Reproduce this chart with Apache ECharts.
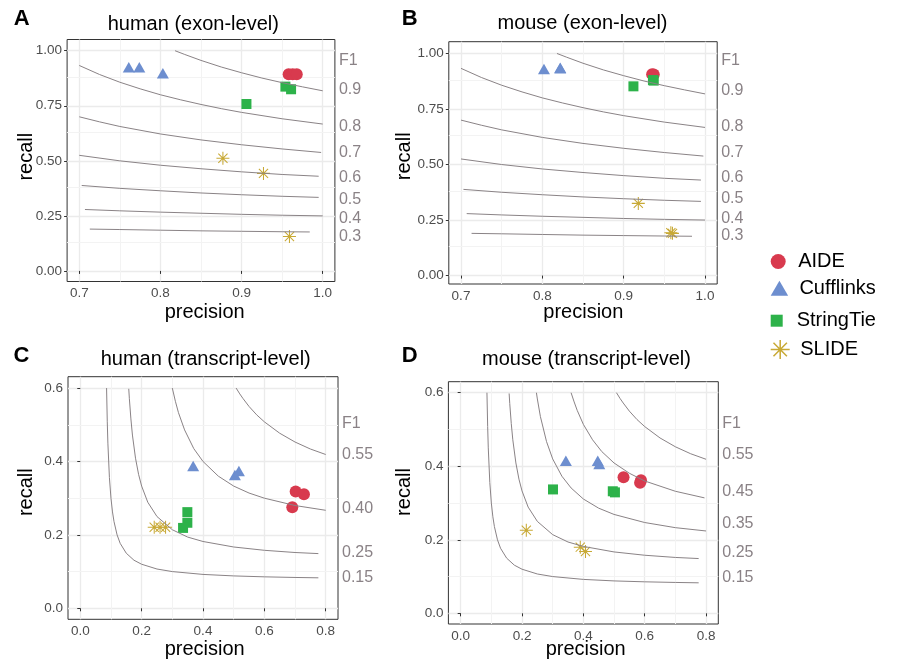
<!DOCTYPE html>
<html>
<head>
<meta charset="utf-8">
<title>F1 precision / recall</title>
<script src="https://cdn.jsdelivr.net/npm/echarts@6/dist/echarts.min.js"></script>
<style>
html, body { margin: 0; padding: 0; background: #fff; }
#main { width: 899px; height: 662px; }
</style>
</head>
<body>
<div id="main"></div>
<script>
//方法名称
var methods = ['AIDE', 'Cufflinks', 'StringTie', 'SLIDE'];

//human exon-level  [precision, recall]
var aideHumanExon = [[0.958, 0.893], [0.963, 0.893], [0.968, 0.893]];
var cuffHumanExon = [[0.761, 0.925], [0.774, 0.925], [0.803, 0.898]];
var stieHumanExon = [[0.906, 0.758], [0.954, 0.837], [0.961, 0.825]];
var slideHumanExon = [[0.877, 0.512], [0.927, 0.443], [0.959, 0.156]];

//mouse exon-level
var aideMouseExon = [[0.935, 0.907], [0.937, 0.905], [0.936, 0.903]];
var cuffMouseExon = [[0.802, 0.93], [0.822, 0.936], [0.822, 0.934]];
var stieMouseExon = [[0.912, 0.852], [0.936, 0.88], [0.937, 0.878]];
var slideMouseExon = [[0.918, 0.325], [0.958, 0.193], [0.96, 0.19]];

//human transcript-level
var aideHumanTx = [[0.702, 0.318], [0.729, 0.311], [0.691, 0.275]];
var cuffHumanTx = [[0.368, 0.388], [0.504, 0.363], [0.517, 0.374]];
var stieHumanTx = [[0.349, 0.262], [0.349, 0.233], [0.335, 0.219]];
var slideHumanTx = [[0.241, 0.221], [0.26, 0.221], [0.278, 0.221]];

//mouse transcript-level
var aideMouseTx = [[0.531, 0.37], [0.588, 0.362], [0.585, 0.355]];
var cuffMouseTx = [[0.343, 0.415], [0.447, 0.415], [0.452, 0.406]];
var stieMouseTx = [[0.301, 0.337], [0.496, 0.332], [0.503, 0.329]];
var slideMouseTx = [[0.214, 0.226], [0.39, 0.18], [0.407, 0.168]];

//F1 等值线 (exon-level)
var f1Exon90 = [[0.818, 1.0], [0.83, 0.983], [0.85, 0.956], [0.875, 0.926], [0.9, 0.9], [0.925, 0.876], [0.95, 0.855], [0.975, 0.836], [1.0, 0.818]];
var f1Exon80 = [[0.7, 0.933], [0.725, 0.892], [0.75, 0.857], [0.775, 0.827], [0.8, 0.8], [0.825, 0.777], [0.85, 0.756], [0.875, 0.737], [0.9, 0.72], [0.95, 0.691], [1.0, 0.667]];
var f1Exon70 = [[0.7, 0.7], [0.725, 0.677], [0.75, 0.656], [0.8, 0.622], [0.85, 0.595], [0.9, 0.573], [0.95, 0.554], [0.998, 0.538]];
var f1Exon60 = [[0.7, 0.525], [0.75, 0.5], [0.8, 0.48], [0.85, 0.464], [0.9, 0.45], [0.95, 0.438], [0.995, 0.43]];
var f1Exon50 = [[0.703, 0.388], [0.75, 0.375], [0.8, 0.364], [0.85, 0.354], [0.9, 0.346], [0.95, 0.339], [0.995, 0.334]];
var f1Exon40 = [[0.707, 0.279], [0.75, 0.273], [0.8, 0.267], [0.85, 0.262], [0.9, 0.257], [0.95, 0.253], [1.0, 0.25]];
var f1Exon30 = [[0.713, 0.19], [0.75, 0.188], [0.8, 0.185], [0.85, 0.182], [0.9, 0.18], [0.95, 0.178], [0.984, 0.177]];

//F1 等值线 (transcript-level)
var f1Tx55 = [[0.508, 0.6], [0.52, 0.584], [0.53, 0.572], [0.55, 0.55], [0.575, 0.527], [0.6, 0.508], [0.65, 0.477], [0.7, 0.453], [0.75, 0.434], [0.8, 0.419]];
var f1Tx45 = [[0.36, 0.6], [0.37, 0.575], [0.38, 0.552], [0.4, 0.514], [0.43, 0.472], [0.46, 0.44], [0.5, 0.409], [0.55, 0.381], [0.6, 0.36], [0.7, 0.332], [0.795, 0.314]];
var f1Tx40 = [[0.3, 0.6], [0.31, 0.564], [0.32, 0.533], [0.34, 0.486], [0.37, 0.435], [0.4, 0.4], [0.45, 0.36], [0.5, 0.333], [0.55, 0.314], [0.6, 0.3], [0.7, 0.28], [0.8, 0.267]];
var f1Tx35 = [[0.247, 0.6], [0.25, 0.583], [0.26, 0.535], [0.28, 0.467], [0.3, 0.42], [0.33, 0.373], [0.36, 0.341], [0.4, 0.311], [0.45, 0.286], [0.5, 0.269], [0.6, 0.247], [0.7, 0.233], [0.8, 0.224]];
var f1Tx25 = [[0.158, 0.598], [0.16, 0.571], [0.165, 0.516], [0.17, 0.472], [0.18, 0.409], [0.19, 0.365], [0.2, 0.333], [0.22, 0.289], [0.25, 0.25], [0.3, 0.214], [0.35, 0.194], [0.4, 0.182], [0.5, 0.167], [0.6, 0.158], [0.7, 0.152], [0.776, 0.149]];
var f1Tx15 = [[0.0857, 0.6], [0.088, 0.508], [0.09, 0.45], [0.095, 0.356], [0.1, 0.3], [0.105, 0.2625], [0.11, 0.236], [0.12, 0.2], [0.13, 0.177], [0.15, 0.15], [0.175, 0.131], [0.2, 0.12], [0.25, 0.107], [0.3, 0.1], [0.4, 0.0923], [0.5, 0.0882], [0.6, 0.0857], [0.7, 0.084], [0.776, 0.083]];

//刻度
var xTicksExon = [0.7, 0.8, 0.9, 1.0];
var yTicksExon = [0, 0.25, 0.5, 0.75, 1.0];
var xMinorExon = [0.75, 0.85, 0.95];
var yMinorExon = [0.125, 0.375, 0.625, 0.875];
var xTicksTx = [0, 0.2, 0.4, 0.6, 0.8];
var yTicksTx = [0, 0.2, 0.4, 0.6];
var xMinorTx = [0.1, 0.3, 0.5, 0.7];
var yMinorTx = [0.1, 0.3, 0.5];

//右侧 F1 标注
var f1TextExon = ['F1', '0.9', '0.8', '0.7', '0.6', '0.5', '0.4', '0.3'];
var f1PosHumanExon = [0.953, 0.822, 0.655, 0.536, 0.424, 0.325, 0.237, 0.158];
var f1PosMouseExon = [0.966, 0.835, 0.673, 0.553, 0.442, 0.345, 0.258, 0.178];
var f1TextHumanTx = ['F1', '0.55', '0.40', '0.25', '0.15'];
var f1PosHumanTx = [0.504, 0.419, 0.272, 0.1525, 0.0844];
var f1TextMouseTx = ['F1', '0.55', '0.45', '0.35', '0.25', '0.15'];
var f1PosMouseTx = [0.517, 0.433, 0.331, 0.245, 0.166, 0.098];

var FONT = '"Liberation Sans", Arial, Helvetica, sans-serif';
var colors = ['#D83A4E', '#6D8ECF', '#2DB24A', '#C8A935'];
var starPath = 'path://M46 0H54V100H46Z M0 46H100V54H0Z M11.8 17.4L17.4 11.8L88.2 82.6L82.6 88.2Z M82.6 11.8L88.2 17.4L17.4 88.2L11.8 82.6Z';
var symbols = ['circle', 'triangle', 'rect', starPath];
var symbolSizes = [12, [12, 10.5], 10, 13];
var curveColor = '#8a8386';
var labelGrey = '#8a8286';

var panels = [{
	box: [67.1, 39.5, 267.8, 242],
	xr: [0.685, 1.015], yr: [-0.048, 1.051],
	xt: xTicksExon, yt: yTicksExon, xd: 1, yd: 2,
	xm: xMinorExon, ym: yMinorExon,
	f1Pos: f1PosHumanExon, f1Text: f1TextExon,
	curves: [f1Exon90, f1Exon80, f1Exon70, f1Exon60, f1Exon50, f1Exon40, f1Exon30],
	pts: [aideHumanExon, cuffHumanExon, stieHumanExon, slideHumanExon]
}, {
	box: [448.8, 41.7, 268.4, 242.3],
	xr: [0.685, 1.015], yr: [-0.038, 1.053],
	xt: xTicksExon, yt: yTicksExon, xd: 1, yd: 2,
	xm: xMinorExon, ym: yMinorExon,
	f1Pos: f1PosMouseExon, f1Text: f1TextExon,
	curves: [f1Exon90, f1Exon80, f1Exon70, f1Exon60, f1Exon50, f1Exon40, f1Exon30],
	pts: [aideMouseExon, cuffMouseExon, stieMouseExon, slideMouseExon]
}, {
	box: [68, 376.7, 270, 242.6],
	xr: [-0.04, 0.84], yr: [-0.03, 0.631],
	xt: xTicksTx, yt: yTicksTx, xd: 1, yd: 1,
	xm: xMinorTx, ym: yMinorTx,
	f1Pos: f1PosHumanTx, f1Text: f1TextHumanTx,
	curves: [f1Tx55, f1Tx40, f1Tx25, f1Tx15],
	pts: [aideHumanTx, cuffHumanTx, stieHumanTx, slideHumanTx]
}, {
	box: [448.4, 381.7, 269.9, 242.3],
	xr: [-0.04, 0.84], yr: [-0.029, 0.63],
	xt: xTicksTx, yt: yTicksTx, xd: 1, yd: 1,
	xm: xMinorTx, ym: yMinorTx,
	f1Pos: f1PosMouseTx, f1Text: f1TextMouseTx,
	curves: [f1Tx55, f1Tx45, f1Tx35, f1Tx25, f1Tx15],
	pts: [aideMouseTx, cuffMouseTx, stieMouseTx, slideMouseTx]
}];

var option = {
	animation: false,
	backgroundColor: '#ffffff',
	textStyle: { fontFamily: FONT },
	grid: [], xAxis: [], yAxis: [], series: [], legend: [], graphic: []
};

var nearestText = function(pos, text, v) {
	var best = 0;
	for(var i = 1; i < pos.length; i++) {
		if(Math.abs(pos[i] - v) < Math.abs(pos[best] - v)) best = i;
	}
	return text[best];
};

panels.forEach(function(pn, i) {
	option.grid.push({
		left: pn.box[0], top: pn.box[1], width: pn.box[2], height: pn.box[3],
		show: true, borderColor: '#333333', borderWidth: 1, backgroundColor: 'transparent'
	});
	option.xAxis.push({
		gridIndex: i, type: 'value', min: pn.xr[0], max: pn.xr[1],
		axisLine: { show: false },
		axisTick: { show: true, length: 3, customValues: pn.xt, lineStyle: { color: '#333333' } },
		axisLabel: {
			customValues: pn.xt, margin: 5, color: '#4D4D4D', fontSize: 13.5, fontFamily: FONT,
			formatter: (function(d) { return function(v) { return Number(v).toFixed(d); }; })(pn.xd)
		},
		splitLine: { show: true, lineStyle: { color: '#EBEBEB', width: 1.3 } }
	});
	option.yAxis.push({
		gridIndex: i, type: 'value', min: pn.yr[0], max: pn.yr[1],
		axisLine: { show: false },
		axisTick: { show: true, length: 3, customValues: pn.yt, lineStyle: { color: '#333333' } },
		axisLabel: {
			customValues: pn.yt, margin: 5, color: '#4D4D4D', fontSize: 13.5, fontFamily: FONT,
			formatter: (function(d) { return function(v) { return Number(v).toFixed(d); }; })(pn.yd)
		},
		splitLine: { show: true, lineStyle: { color: '#EBEBEB', width: 1.3 } }
	});
	//右侧 F1 标签
	option.yAxis.push({
		gridIndex: i, type: 'value', position: 'right', min: pn.yr[0], max: pn.yr[1],
		axisLine: { show: false }, axisTick: { show: false }, splitLine: { show: false },
		axisLabel: {
			customValues: pn.f1Pos, margin: 4, color: labelGrey, fontSize: 16, fontFamily: FONT,
			formatter: (function(pos, txt) { return function(v) { return nearestText(pos, txt, v); }; })(pn.f1Pos, pn.f1Text)
		}
	});

	//次网格线
	var minorLines = [];
	pn.xm.forEach(function(v) { minorLines.push({ xAxis: v }); });
	pn.ym.forEach(function(v) { minorLines.push({ yAxis: v }); });
	option.series.push({
		type: 'line', xAxisIndex: i, yAxisIndex: 2 * i, data: [], silent: true, z: 1,
		markLine: {
			silent: true, z: 1, symbol: ['none', 'none'], label: { show: false },
			lineStyle: { color: '#F3F3F3', width: 1, type: 'solid' },
			emphasis: { disabled: true },
			data: minorLines
		}
	});

	//散点
	pn.pts.forEach(function(d, k) {
		option.series.push({
			type: 'scatter', name: methods[k], xAxisIndex: i, yAxisIndex: 2 * i,
			data: d, symbol: symbols[k], symbolSize: symbolSizes[k],
			itemStyle: { color: colors[k], opacity: 1 }, z: 3
		});
	});

	//F1 等值线
	pn.curves.forEach(function(c) {
		option.series.push({
			type: 'line', xAxisIndex: i, yAxisIndex: 2 * i, data: c,
			symbol: 'none', showSymbol: false, smooth: false, silent: true,
			lineStyle: { color: curveColor, width: 1 }, z: 4
		});
	});
});

//图例
var legendIcons = ['circle', 'path://M50 0L100 86L0 86Z', 'path://M0 0H10V10H0Z', starPath];
var legendHeights = [15, 15, 12, 19];
var legendCenters = [259, 285.7, 316.7, 349];
methods.forEach(function(m, k) {
	option.legend.push({
		data: [{ name: m, icon: legendIcons[k] }],
		orient: 'vertical', left: 770.7, top: legendCenters[k] - legendHeights[k] / 2,
		padding: 0, itemWidth: 30, itemHeight: legendHeights[k], selectedMode: false,
		textStyle: { color: '#000', fontSize: 20, fontFamily: FONT }
	});
});

//文字
var addText = function(txt, x, y, size, weight, rot) {
	option.graphic.push({
		type: 'text', x: x, y: y, rotation: rot || 0, silent: true,
		style: { text: txt, fontSize: size, fontWeight: weight, fontFamily: FONT, fill: '#000', align: 'center', verticalAlign: 'middle' }
	});
};
addText('A', 21.7, 18.5, 22, 'bold');
addText('B', 409.7, 18.5, 22, 'bold');
addText('C', 21.5, 355.5, 22, 'bold');
addText('D', 409.7, 355.5, 22, 'bold');
addText('human (exon-level)', 193.3, 24, 20, 'normal');
addText('mouse (exon-level)', 582.5, 23.5, 20, 'normal');
addText('human (transcript-level)', 205.7, 359.5, 20, 'normal');
addText('mouse (transcript-level)', 586.5, 359.5, 20, 'normal');
addText('precision', 204.7, 312, 20, 'normal');
addText('precision', 583.3, 312, 20, 'normal');
addText('precision', 204.7, 649, 20, 'normal');
addText('precision', 585.7, 649, 20, 'normal');
addText('recall', 26.4, 156.7, 20, 'normal', Math.PI / 2);
addText('recall', 404.8, 156.3, 20, 'normal', Math.PI / 2);
addText('recall', 26.4, 492.2, 20, 'normal', Math.PI / 2);
addText('recall', 404.8, 492, 20, 'normal', Math.PI / 2);

var chart = echarts.init(document.getElementById('main'), null, { renderer: 'canvas' });
chart.setOption(option);
</script>
</body>
</html>
